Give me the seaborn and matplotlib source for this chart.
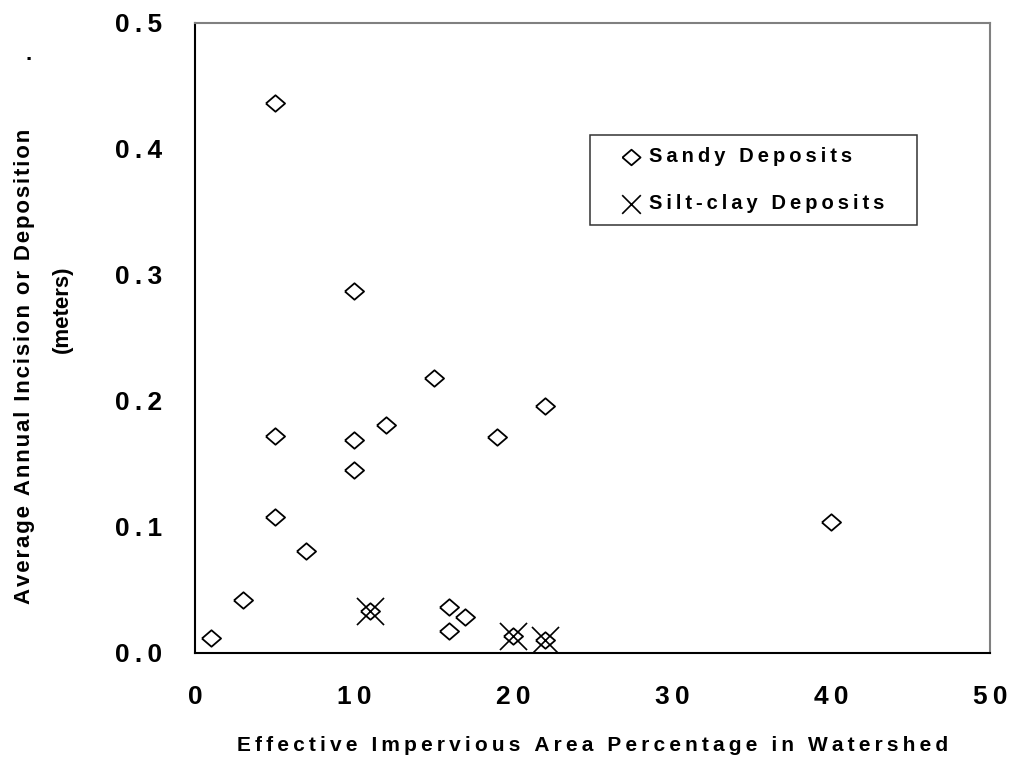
import numpy as np
import pandas as pd
import matplotlib
matplotlib.use("Agg")
import matplotlib.pyplot as plt
import seaborn as sns

# data
sandy_x = [1, 3, 5, 5, 5, 7, 10, 10, 10, 11, 12, 15, 16, 16, 17, 19, 20, 22, 22, 40]
sandy_y = [0.012, 0.042, 0.436, 0.172, 0.108, 0.081, 0.287, 0.169, 0.145, 0.033,
           0.181, 0.218, 0.036, 0.017, 0.028, 0.171, 0.013, 0.196, 0.010, 0.104]
silt_x = [11, 20, 22]
silt_y = [0.033, 0.013, 0.010]

x_ticks = [0, 10, 20, 30, 40, 50]
y_ticks = [0.0, 0.1, 0.2, 0.3, 0.4, 0.5]

sandy = pd.DataFrame({"x": sandy_x, "y": sandy_y})
silt = pd.DataFrame({"x": silt_x, "y": silt_y})

sns.set_style("white")
plt.rcParams["font.family"] = ["Liberation Sans", "DejaVu Sans"]
plt.rcParams["font.weight"] = "bold"
plt.rcParams["text.color"] = "black"
plt.rcParams["axes.labelcolor"] = "black"
plt.rcParams["xtick.color"] = "black"
plt.rcParams["ytick.color"] = "black"

THIN = "\u2009"
HAIR = "\u200a"


def spaced(s, sp):
    return sp.join(s)


fig = plt.figure(figsize=(10.1, 7.63), dpi=100)
ax = fig.add_axes([0.1931, 0.1446, 0.7871, 0.8256])

diamond = [(-1, 0), (0, 0.86), (1, 0), (0, -0.86), (-1, 0)]
sns.scatterplot(data=sandy, x="x", y="y", marker=diamond, s=190,
                facecolor="white", edgecolor="black", linewidth=1.3,
                ax=ax, label=spaced("Sandy Deposits", THIN), zorder=3)
sns.scatterplot(data=silt, x="x", y="y", marker="x", s=380,
                color="black", linewidth=1.2, ax=ax,
                label=spaced("Silt-clay Deposits", THIN), zorder=4)

ax.set_xlim(0, 50)
ax.set_ylim(0, 0.5)
ax.set_xticks(x_ticks)
ax.set_yticks(y_ticks)
ax.set_xticklabels([spaced(str(v), THIN) for v in x_ticks],
                   fontsize=19, fontweight="bold", color="black")
ax.set_yticklabels([spaced(f"{v:.1f}", THIN) for v in y_ticks],
                   fontsize=19, fontweight="bold", color="black")
ax.tick_params(axis="both", direction="inout", length=15, width=1.1,
               color="black")
ax.tick_params(axis="x", pad=16)
ax.tick_params(axis="y", pad=16)

for side in ["left", "bottom"]:
    ax.spines[side].set_color("black")
    ax.spines[side].set_linewidth(1.5)
for side in ["top", "right"]:
    ax.spines[side].set_color("#808080")
    ax.spines[side].set_linewidth(1.5)

ax.set_xlabel(spaced("Effective Impervious Area Percentage in Watershed", THIN),
              fontsize=15, fontweight="bold", labelpad=19, color="black")
ax.set_ylabel("")

fig.text(0.0245, 0.52, spaced("Average Annual Incision or Deposition", HAIR),
         rotation=90, fontsize=16, fontweight="bold", ha="center", va="center")
fig.text(0.0615, 0.595, "(meters)", rotation=90, fontsize=16,
         fontweight="bold", ha="center", va="center")
fig.text(0.0287, 0.928, ".", fontsize=16, fontweight="bold",
         ha="center", va="center")

leg = ax.legend(loc="center", bbox_to_anchor=(0.497, 0.676, 0.411, 0.149),
                mode="expand", frameon=True, fancybox=False, fontsize=14.5,
                borderpad=0.6, labelspacing=1.4, handlelength=2.9,
                handletextpad=-0.6, borderaxespad=0)
leg.get_frame().set_edgecolor("black")
leg.get_frame().set_linewidth(1.1)
for t in leg.get_texts():
    t.set_fontweight("bold")
leg.legend_handles[0].set_sizes([170])
leg.legend_handles[1].set_sizes([180])

fig.savefig("out.png", dpi=100)
